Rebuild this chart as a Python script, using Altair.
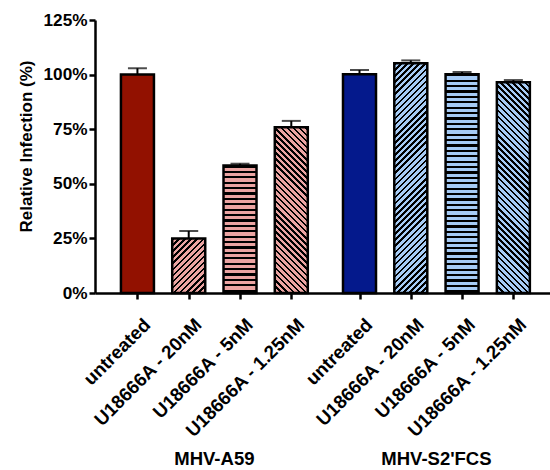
import math
import altair as alt
import pandas as pd

# ---------------- data ----------------
groups = ["MHV-A59", "MHV-S2'FCS"]
treatments = ["untreated", "U18666A - 20nM", "U18666A - 5nM", "U18666A - 1.25nM"]
a59_values = [100.0, 25.0, 58.4, 75.9]
a59_sem = [2.9, 3.4, 0.8, 2.9]
s2_values = [100.2, 105.2, 100.2, 96.5]
s2_sem = [1.9, 1.3, 1.0, 1.0]
patterns = ["solid", "up", "horiz", "down"]
dark_colors = ["#921100", "#04198C"]
light_colors = ["#EBA4A2", "#A6CBF5"]

# ---------------- layout ----------------
PLOT_W, PLOT_H = 455, 273
Y_MAX = 125
GAP = 0.33
X_DOMAIN = [-0.73, 7.947]
BAR_W = 33
FONT = "Liberation Sans"

rows = []
for g, (vals, sems) in enumerate([(a59_values, a59_sem), (s2_values, s2_sem)]):
    for i, t in enumerate(treatments):
        rows.append({
            "idx": g * 4 + i,
            "group": groups[g],
            "treatment": t,
            "pos": i + g * (4 + GAP),
            "value": vals[i],
            "top": vals[i] + sems[i],
            "pattern": patterns[i],
            "color": dark_colors[g] if patterns[i] == "solid" else light_colors[g],
        })
df = pd.DataFrame(rows)
positions = list(df["pos"])
label_list = list(df["treatment"])

labels_js = "[" + ",".join("'" + s + "'" for s in label_list) + "]"
label_expr = f"{labels_js}[round(datum.value < 3.6 ? datum.value : datum.value - {GAP})]"

x_enc = alt.X(
    "pos:Q",
    scale=alt.Scale(domain=X_DOMAIN, nice=False, zero=False),
    axis=alt.Axis(
        values=positions, labelExpr=label_expr, labelAngle=-45,
        labelAlign="right", labelBaseline="top", labelPadding=16, labelOffset=3,
        labelFlush=False, labelOverlap=False, labelBound=False,
        labelFont=FONT, labelFontSize=18.7, labelFontWeight="bold", labelColor="black",
        tickSize=6, tickWidth=2.5, tickColor="black",
        domainColor="black", domainWidth=2.5, grid=False, title=None,
    ),
)
y_axis = alt.Axis(
    values=[0, 25, 50, 75, 100, 125], labelExpr="datum.value + '%'",
    labelFont=FONT, labelFontSize=17.2, labelFontWeight="bold", labelColor="black",
    labelPadding=2, tickSize=6, tickWidth=2.5, tickColor="black",
    domainColor="black", domainWidth=2.5, grid=False,
    title="Relative Infection (%)", titleFont=FONT, titleFontSize=17,
    titleFontWeight="bold", titleColor="black", titleAngle=270,
    titleX=-69, titleY=126, titleAlign="center", titleBaseline="middle",
)
y_scale = alt.Scale(domain=[0, Y_MAX], nice=False, zero=True)


def stripe_fill(color, kind, H, W=BAR_W):
    if kind == "horiz":
        x1, y1, x2, y2 = 0, 0, 0, 1
        D, period, dark = H, 5.4, 2.2
    else:
        t = (W + H) / (W * W + H * H)
        if kind == "up":
            x1, y1, x2, y2 = 0, 0, t * W, t * H
        else:
            x1, y1, x2, y2 = 0, 1, t * W, 1 - t * H
        D, period, dark = (W + H) / math.sqrt(2), 4.3, 1.8
    stops = []
    k = 0
    while k * period < D:
        s = k * period / D
        m = min((k * period + dark) / D, 1)
        e = min((k + 1) * period / D, 1)
        stops += [
            {"offset": round(s, 5), "color": "black"},
            {"offset": round(m, 5), "color": "black"},
            {"offset": round(m, 5), "color": color},
            {"offset": round(e, 5), "color": color},
        ]
        k += 1
    return {"gradient": "linear", "x1": x1, "y1": y1, "x2": x2, "y2": y2, "stops": stops}


base = alt.Chart(df)

stems = base.mark_rule(color="black", strokeWidth=2).encode(
    x=x_enc, y=alt.Y("value:Q", scale=y_scale, axis=y_axis), y2="top:Q"
)
caps = base.mark_tick(orient="horizontal", size=19, thickness=2, color="black").encode(
    x=x_enc, y=alt.Y("top:Q", scale=y_scale, axis=y_axis)
)

bar_layers = []
for r in rows:
    H = r["value"] * PLOT_H / Y_MAX
    if r["pattern"] == "solid":
        fill = r["color"]
    else:
        fill = stripe_fill(r["color"], r["pattern"], H)
    bar_layers.append(
        base.transform_filter(alt.datum.idx == r["idx"])
        .mark_bar(size=BAR_W, fill=fill, stroke="black", strokeWidth=2.5, opacity=1)
        .encode(x=x_enc, y=alt.Y("value:Q", scale=y_scale, axis=y_axis))
    )

gdf = df.groupby("group", sort=False)["pos"].mean().reset_index()
group_text = alt.Chart(gdf).mark_text(
    font=FONT, fontSize=18.5, fontWeight="bold", color="black", baseline="middle"
).encode(x=x_enc, y=alt.value(439), text="group:N")

chart = alt.layer(stems, caps, *bar_layers, group_text).properties(
    width=PLOT_W, height=PLOT_H,
    autosize=alt.AutoSizeParams(type="none"),
    padding={"left": 95, "top": 20, "right": 0, "bottom": 177},
).configure_view(stroke=None)

chart.save("out.html", embed_options={"renderer": "svg", "actions": False})
